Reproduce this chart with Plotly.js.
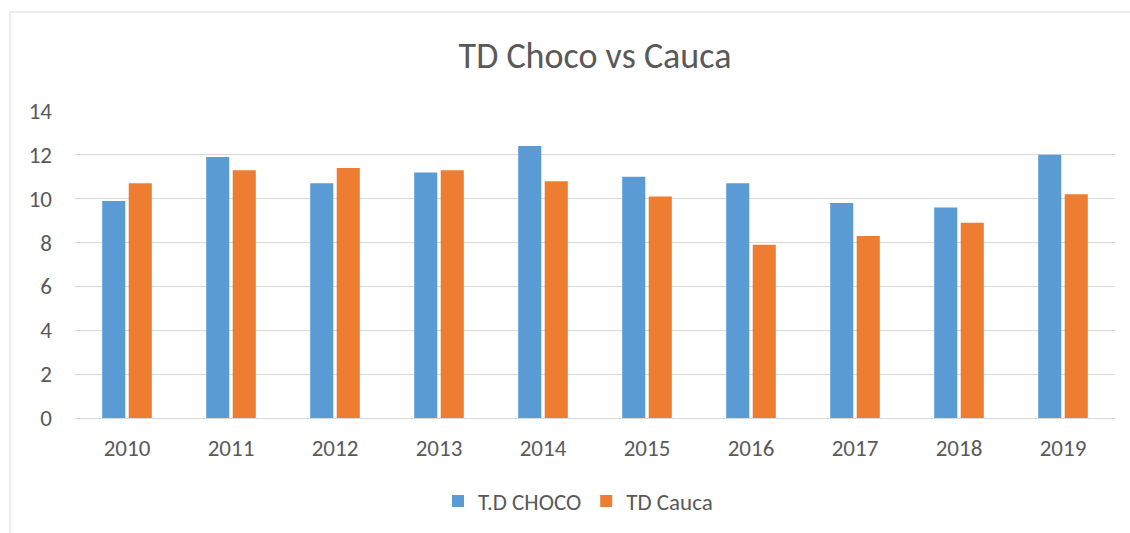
<!DOCTYPE html>
<html>
<head>
<meta charset="utf-8">
<script src="https://cdn.plot.ly/plotly-3.0.1.min.js"></script>
<style>html,body{margin:0;padding:0;background:#fff;}#chart{width:1130px;height:533px;}</style>
</head>
<body>
<div id="chart"></div>
<script>
const years = ["2010","2011","2012","2013","2014","2015","2016","2017","2018","2019"];
const choco = [9.9, 11.9, 10.7, 11.2, 12.4, 11.0, 10.7, 9.8, 9.6, 12.0];
const cauca = [10.7, 11.3, 11.4, 11.3, 10.8, 10.1, 7.9, 8.3, 8.9, 10.2];
const yTicks = [0, 2, 4, 6, 8, 10, 12, 14];

const W = 1130, H = 533, L = 75, R = 15, T = 111, B = 115;
const pw = W - L - R, ph = H - T - B;
const px = x => (x - L) / pw;
const py = y => (H - B - y) / ph;

const font = "Calibri, Carlito, 'Open Sans', sans-serif";
const traces = [
  {type: 'bar', name: 'T.D CHOCO', x: years, y: choco, marker: {color: '#5b9bd5'}},
  {type: 'bar', name: 'TD Cauca', x: years, y: cauca, marker: {color: '#ed7d31'}}
];
const layout = {
  width: W, height: H,
  margin: {l: L, r: R, t: T, b: B, pad: 0, autoexpand: false},
  paper_bgcolor: '#fff', plot_bgcolor: '#fff',
  font: {family: font, color: '#595959', size: 22},
  title: {text: 'TD Choco vs Cauca', font: {family: font, size: 36, color: '#595959', weight: 300}, x: 0.5, xanchor: 'center', y: 1 - 55 / H, yanchor: 'middle', xref: 'paper'},
  barmode: 'group', bargap: 0.49, bargroupgap: 0.13,
  xaxis: {type: 'category', automargin: false, showgrid: false, showline: true, linecolor: '#d9d9d9', linewidth: 1, ticks: '', ticklabelstandoff: 9, tickfont: {size: 23}, zeroline: false},
  yaxis: {range: [0, 14], automargin: false, tickvals: yTicks, ticktext: yTicks.map(String), showgrid: true, gridcolor: '#d9d9d9', gridwidth: 1, zeroline: false, showline: false, ticks: '', ticklabelstandoff: 22, tickfont: {size: 23}},
  legend: {orientation: 'h', x: px(578), xanchor: 'center', y: py(501), yanchor: 'middle', font: {size: 23, color: '#595959'}, traceorder: 'normal', itemwidth: 30},
  shapes: [
    {type: 'rect', xref: 'paper', yref: 'paper', x0: px(10), x1: px(1140), y0: py(12), y1: py(545), line: {color: '#d9d9d9', width: 1}, fillcolor: 'rgba(0,0,0,0)', layer: 'below'}
  ],
  showlegend: true
};
Plotly.newPlot('chart', traces, layout, {displayModeBar: false, staticPlot: true});
</script>
</body>
</html>
